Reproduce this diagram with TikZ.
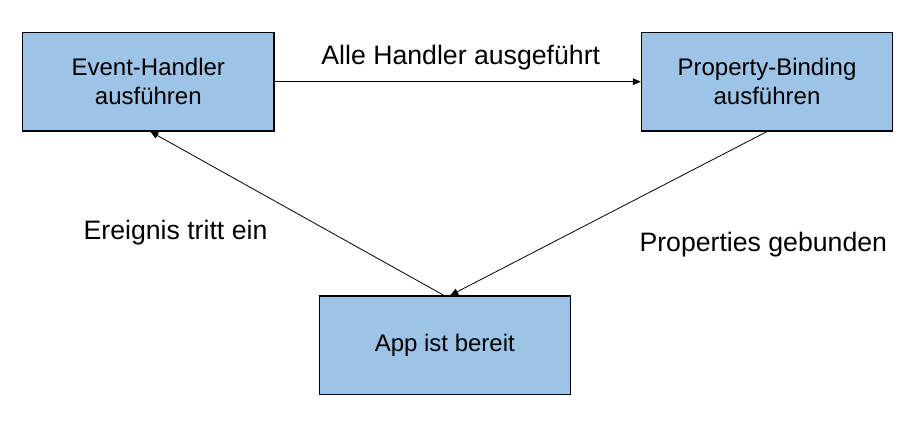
\documentclass[tikz,border=0pt]{standalone}
\usepackage{fontspec}
\setmainfont{Liberation Sans}
\usetikzlibrary{arrows.meta}
\definecolor{boxfill}{HTML}{9DC3E6}
\tikzset{
  box/.style={draw=black, line width=0.8pt, fill=boxfill, minimum width=188.5pt, minimum height=74pt, inner sep=0pt, align=center, font=\fontsize{18}{21.75}\selectfont},
  conn/.style={draw=black, line width=0.6pt, -{Triangle[length=6pt,width=5pt]}},
  lbl/.style={anchor=base, inner sep=0pt, font=\fontsize{20}{24}\selectfont}
}
\begin{document}
\begin{tikzpicture}[x=0.75pt,y=-0.75pt]
\useasboundingbox (0,0) rectangle (917,424);
\node[box] (ev) at (148.3,81.7) {Event-Handler\\ausführen};
\node[box] (pb) at (767,81.7) {Property-Binding\\ausführen};
\node[box] (app) at (444.8,345.3) {App ist bereit};
\draw[conn] (ev.east) -- (pb.west);
\draw[conn] (pb.south) -- ([xshift=4pt]app.north);
\draw[conn] ([xshift=-0.6pt]app.north) -- ([xshift=1.5pt]ev.south);
\node[lbl] (l1) at (460.8,64.3) {Alle Handler ausgeführt};
\node[lbl] (l2) at (175.5,239.3) {Ereignis tritt ein};
\node[lbl] (l3) at (763.3,251) {Properties gebunden};
\end{tikzpicture}
\end{document}
